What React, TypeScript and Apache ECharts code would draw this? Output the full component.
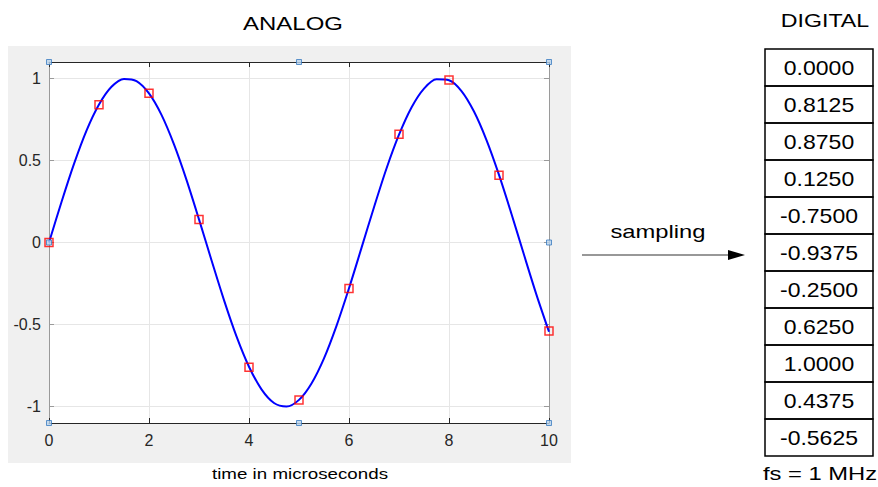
import { useEffect, useRef } from 'react';
import * as echarts from 'echarts';

const curveTimes = [
  0, 0.25, 0.5, 0.75, 1, 1.25, 1.5, 1.75, 2, 2.25, 2.5, 2.75, 3, 3.25, 3.5, 3.75, 4, 4.25, 4.5, 4.75,
  5, 5.25, 5.5, 5.75, 6, 6.25, 6.5, 6.75, 7, 7.25, 7.5, 7.75, 8, 8.25, 8.5, 8.75, 9, 9.25, 9.5, 9.75, 10,
];
const curveValues = [
  0, 0.247, 0.479, 0.682, 0.841, 0.949, 0.997, 0.984, 0.909, 0.778, 0.598, 0.382, 0.141, -0.108,
  -0.351, -0.572, -0.757, -0.895, -0.978, -0.999, -0.959, -0.859, -0.706, -0.508, -0.279, -0.033,
  0.215, 0.451, 0.657, 0.823, 0.938, 0.995, 0.989, 0.923, 0.798, 0.624, 0.412, 0.174, -0.075, -0.319,
  -0.544,
];
const sampleTimes = [0, 1, 2, 3, 4, 5, 6, 7, 8, 9, 10];
const sampleValues = [0, 0.84, 0.91, 0.14, -0.76, -0.96, -0.28, 0.66, 0.99, 0.41, -0.54];
const digitalValues = [
  '0.0000', '0.8125', '0.8750', '0.1250', '-0.7500', '-0.9375', '-0.2500', '0.6250', '1.0000',
  '0.4375', '-0.5625',
];
const yTicks = [-1, -0.5, 0, 0.5, 1];
const handlePoints: [number, number][] = [
  [0, 1.1], [5, 1.1], [10, 1.1], [10, 0], [10, -1.1], [5, -1.1], [0, -1.1], [0, 0],
];

const FONT = 'Liberation Sans, Arial, sans-serif';
const DARK = '#262626';
const LIGHT_AXIS = '#9a9a9a';

function txt(text: string, x: number, y: number, fontSize: number, scaleX: number) {
  return {
    type: 'text',
    x,
    y,
    scaleX,
    z: 10,
    style: {
      text,
      fontSize,
      fontFamily: FONT,
      fill: '#000',
      align: 'center',
      verticalAlign: 'middle',
    },
  };
}

export default function App() {
  const ref = useRef<HTMLDivElement>(null);

  useEffect(() => {
    if (!ref.current) return;
    const chart = echarts.init(ref.current, undefined, { renderer: 'svg' });

    const tableLeft = 765;
    const tableTop = 49;
    const rowH = 37;
    const tableW = 108;

    const tableGraphics: any[] = [];
    digitalValues.forEach((v, i) => {
      tableGraphics.push({
        type: 'rect',
        z: 10,
        shape: { x: tableLeft, y: tableTop + i * rowH, width: tableW, height: rowH },
        style: { fill: 'none', stroke: '#000', lineWidth: 1.5 },
      });
      tableGraphics.push(txt(v, tableLeft + tableW / 2, tableTop + i * rowH + rowH / 2 + 1, 20, 1.15));
    });

    chart.setOption({
      animation: false,
      backgroundColor: '#fff',
      textStyle: { fontFamily: FONT },
      grid: {
        left: 49,
        top: 62,
        width: 500,
        height: 361,
        show: true,
        backgroundColor: '#fff',
        borderWidth: 0,
        containLabel: false,
      },
      xAxis: [
        {
          type: 'value',
          min: 0,
          max: 10,
          interval: 2,
          position: 'bottom',
          axisLine: { onZero: false, lineStyle: { color: DARK, width: 1 } },
          axisTick: { inside: true, length: 5, lineStyle: { color: DARK } },
          axisLabel: { fontSize: 16, color: DARK, margin: 9, fontFamily: FONT },
          splitLine: { show: true, lineStyle: { color: '#e6e6e6', width: 1 } },
        },
        {
          type: 'value',
          min: 0,
          max: 10,
          interval: 2,
          position: 'top',
          axisLine: { onZero: false, lineStyle: { color: DARK, width: 1 } },
          axisTick: { inside: true, length: 5, lineStyle: { color: DARK } },
          axisLabel: { show: false },
          splitLine: { show: false },
        },
      ],
      yAxis: [
        {
          type: 'value',
          min: -1.1,
          max: 1.1,
          position: 'left',
          axisLine: { show: true, onZero: false, lineStyle: { color: LIGHT_AXIS, width: 1 } },
          axisTick: { show: true, inside: true, length: 5, customValues: yTicks, lineStyle: { color: LIGHT_AXIS } },
          axisLabel: {
            fontSize: 16,
            color: DARK,
            margin: 8,
            fontFamily: FONT,
            customValues: yTicks,
            formatter: (v: number) => String(v),
          },
          splitLine: { show: true, lineStyle: { color: '#e6e6e6', width: 1 } },
        },
        {
          type: 'value',
          min: -1.1,
          max: 1.1,
          position: 'right',
          axisLine: { show: true, onZero: false, lineStyle: { color: LIGHT_AXIS, width: 1 } },
          axisTick: { show: true, inside: true, length: 5, customValues: yTicks, lineStyle: { color: LIGHT_AXIS } },
          axisLabel: { show: false },
          splitLine: { show: false },
        },
      ],
      series: [
        {
          type: 'line',
          data: curveTimes.map((t, i) => [t, curveValues[i]]),
          smooth: 0.3,
          showSymbol: false,
          symbol: 'none',
          lineStyle: { color: '#0000ff', width: 2 },
          z: 3,
        },
        {
          type: 'scatter',
          data: sampleTimes.map((t, i) => [t, sampleValues[i]]),
          symbol: 'rect',
          symbolSize: 8,
          itemStyle: { color: 'rgba(0,0,0,0)', borderColor: '#ff0000', borderWidth: 1.5 },
          z: 4,
        },
        {
          type: 'scatter',
          data: handlePoints,
          symbol: 'rect',
          symbolSize: 5,
          clip: false,
          itemStyle: { color: '#b9d3ec', borderColor: '#3a7cc0', borderWidth: 1 },
          z: 6,
        },
      ],
      graphic: [
        {
          type: 'rect',
          z: -10,
          shape: { x: 8, y: 46, width: 563, height: 417 },
          style: { fill: '#f0f0f0' },
        },
        txt('ANALOG', 293, 23, 19, 1.26),
        txt('time in microseconds', 300, 474, 15, 1.25),
        txt('sampling', 658, 232, 19, 1.25),
        {
          type: 'line',
          z: 10,
          shape: { x1: 582, y1: 255, x2: 732, y2: 255 },
          style: { stroke: '#333', lineWidth: 1.2 },
        },
        {
          type: 'polygon',
          z: 10,
          shape: { points: [[728, 250], [745, 255], [728, 260]] },
          style: { fill: '#000' },
        },
        txt('DIGITAL', 825, 20, 19, 1.22),
        ...tableGraphics,
        txt('fs = 1 MHz', 820, 474, 19, 1.25),
      ],
    });

    return () => chart.dispose();
  }, []);

  return <div ref={ref} style={{ position: 'fixed', left: 0, top: 0, width: 878, height: 487 }} />;
}
